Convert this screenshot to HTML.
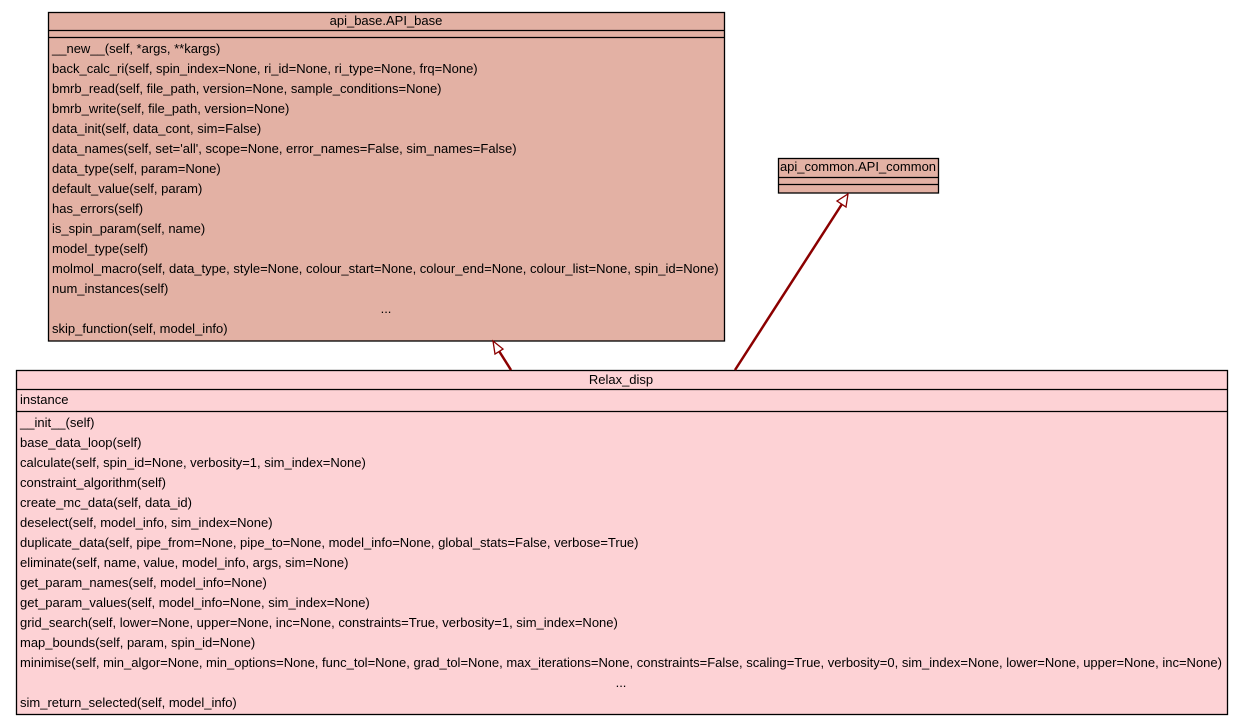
<!DOCTYPE html>
<html><head><meta charset="utf-8"><style>body{margin:0;background:#fff}svg{display:block}text{font-family:"Liberation Sans",sans-serif;font-size:13px;fill:#000}</style></head><body>
<svg width="1243" height="725" viewBox="0 0 1243 725">
<rect x="0" y="0" width="1243" height="725" fill="#fff"/>
<!-- API_base -->
<rect x="48.5" y="12.5" width="676" height="328.5" fill="#e3b1a4" stroke="#000" stroke-width="1.3"/>
<line x1="48" y1="30.5" x2="725" y2="30.5" stroke="#000" stroke-width="1.3"/>
<line x1="48" y1="37.5" x2="725" y2="37.5" stroke="#000" stroke-width="1.3"/>
<text x="386" y="25" text-anchor="middle">api_base.API_base</text>
<g>
<text x="52" y="53">__new__(self, *args, **kargs)</text>
<text x="52" y="73">back_calc_ri(self, spin_index=None, ri_id=None, ri_type=None, frq=None)</text>
<text x="52" y="93">bmrb_read(self, file_path, version=None, sample_conditions=None)</text>
<text x="52" y="113">bmrb_write(self, file_path, version=None)</text>
<text x="52" y="133">data_init(self, data_cont, sim=False)</text>
<text x="52" y="153">data_names(self, set='all', scope=None, error_names=False, sim_names=False)</text>
<text x="52" y="173">data_type(self, param=None)</text>
<text x="52" y="193">default_value(self, param)</text>
<text x="52" y="213">has_errors(self)</text>
<text x="52" y="233">is_spin_param(self, name)</text>
<text x="52" y="253">model_type(self)</text>
<text x="52" y="273">molmol_macro(self, data_type, style=None, colour_start=None, colour_end=None, colour_list=None, spin_id=None)</text>
<text x="52" y="293">num_instances(self)</text>
<text x="386" y="313" text-anchor="middle">...</text>
<text x="52" y="333">skip_function(self, model_info)</text>
</g>
<!-- API_common -->
<rect x="778.5" y="158.5" width="160" height="34.5" fill="#e3b1a4" stroke="#000" stroke-width="1.3"/>
<line x1="778" y1="177.5" x2="939" y2="177.5" stroke="#000" stroke-width="1.3"/>
<line x1="778" y1="184.5" x2="939" y2="184.5" stroke="#000" stroke-width="1.3"/>
<text x="858" y="171" text-anchor="middle">api_common.API_common</text>
<!-- Relax_disp -->
<rect x="16.5" y="370.5" width="1211" height="344" fill="#fdd2d5" stroke="#000" stroke-width="1.3"/>
<line x1="16" y1="389.5" x2="1228" y2="389.5" stroke="#000" stroke-width="1.3"/>
<line x1="16" y1="411.5" x2="1228" y2="411.5" stroke="#000" stroke-width="1.3"/>
<text x="621" y="384" text-anchor="middle">Relax_disp</text>
<text x="20" y="404">instance</text>
<g>
<text x="20" y="427">__init__(self)</text>
<text x="20" y="447">base_data_loop(self)</text>
<text x="20" y="467">calculate(self, spin_id=None, verbosity=1, sim_index=None)</text>
<text x="20" y="487">constraint_algorithm(self)</text>
<text x="20" y="507">create_mc_data(self, data_id)</text>
<text x="20" y="527">deselect(self, model_info, sim_index=None)</text>
<text x="20" y="547">duplicate_data(self, pipe_from=None, pipe_to=None, model_info=None, global_stats=False, verbose=True)</text>
<text x="20" y="567">eliminate(self, name, value, model_info, args, sim=None)</text>
<text x="20" y="587">get_param_names(self, model_info=None)</text>
<text x="20" y="607">get_param_values(self, model_info=None, sim_index=None)</text>
<text x="20" y="627">grid_search(self, lower=None, upper=None, inc=None, constraints=True, verbosity=1, sim_index=None)</text>
<text x="20" y="647">map_bounds(self, param, spin_id=None)</text>
<text x="20" y="667">minimise(self, min_algor=None, min_options=None, func_tol=None, grad_tol=None, max_iterations=None, constraints=False, scaling=True, verbosity=0, sim_index=None, lower=None, upper=None, inc=None)</text>
<text x="621" y="687" text-anchor="middle">...</text>
<text x="20" y="707">sim_return_selected(self, model_info)</text>
</g>
<!-- arrows -->
<line x1="511" y1="370" x2="499" y2="351" stroke="#8b0000" stroke-width="2.5"/>
<polygon points="493,341 503,349 495,354" fill="#fff" stroke="#8b0000" stroke-width="1.3"/>
<line x1="735" y1="370" x2="842" y2="204" stroke="#8b0000" stroke-width="2.5"/>
<polygon points="848,194 846,207 837,201" fill="#fff" stroke="#8b0000" stroke-width="1.3"/>
</svg>
</body></html>
